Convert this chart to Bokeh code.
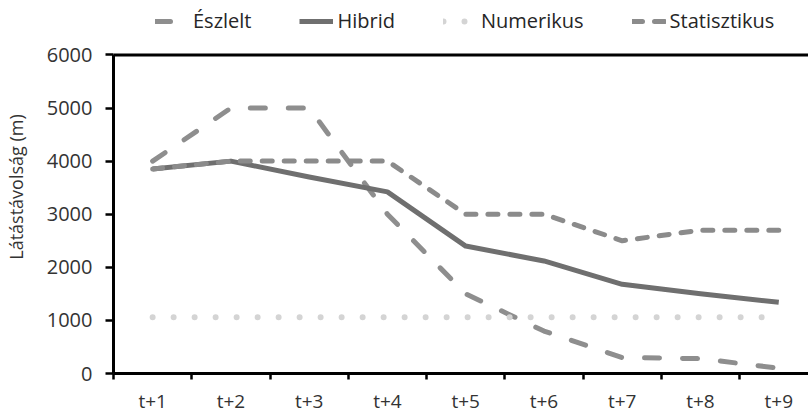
from bokeh.plotting import figure
from bokeh.models import (FixedTicker, LinearAxis, Legend, LegendItem, Range1d, Span)
from bokeh.embed import file_html
from bokeh.resources import INLINE

# ---- data ----
categories = ["t+1", "t+2", "t+3", "t+4", "t+5", "t+6", "t+7", "t+8", "t+9"]
eszlelt = [4000, 5000, 5000, 3000, 1500, 800, 300, 280, 100]
hibrid = [3850, 4000, 3700, 3420, 2400, 2120, 1680, 1500, 1340]
numerikus = [1060, 1060, 1060, 1060, 1060, 1060, 1060, 1060, 1060]
statisztikus = [3850, 4000, 4000, 4000, 3000, 3000, 2500, 2700, 2700]
y_ticks = [0, 1000, 2000, 3000, 4000, 5000, 6000]

xs = list(range(1, len(categories) + 1))
FONT = "Open Sans"

# frame runs to the top of the canvas so the legend can sit inside it;
# the value axis itself stops at 6000 (top border drawn there)
p = figure(width=808, height=416, output_backend="svg", toolbar_location=None,
           x_range=Range1d(0.5, 9.38), y_range=Range1d(0, 7025),
           min_border_left=113, min_border_top=0, min_border_bottom=39,
           min_border_right=0, x_axis_type=None, y_axis_type=None)
p.outline_line_color = None
p.background_fill_color = "white"
p.border_fill_color = "white"
p.grid.visible = False

# x axis (category labels at centres, ticks at boundaries)
xax = LinearAxis(ticker=FixedTicker(ticks=xs, minor_ticks=[x - 0.5 for x in xs] + [xs[-1] + 0.5]))
xax.major_label_overrides = {x: c for x, c in zip(xs, categories)}
xax.major_tick_line_color = None
xax.major_tick_out = 0
xax.major_tick_in = 0
xax.minor_tick_line_color = "black"
xax.minor_tick_line_width = 2.5
xax.minor_tick_out = 6
xax.minor_tick_in = 0
xax.axis_line_color = "black"
xax.axis_line_width = 3
xax.major_label_text_font = FONT
xax.major_label_text_font_size = "19px"
xax.major_label_text_color = "#333333"
xax.major_label_text_line_height = 1.0
xax.major_label_standoff = 8
p.add_layout(xax, "below")

# y axis
yax = LinearAxis(ticker=FixedTicker(ticks=y_ticks), bounds=(y_ticks[0], y_ticks[-1]))
yax.axis_label = "Látástávolság (m)"
yax.axis_label_text_font = FONT
yax.axis_label_text_font_size = "18px"
yax.axis_label_text_font_style = "normal"
yax.axis_label_text_color = "#333333"
yax.axis_label_standoff = 16
yax.minor_tick_line_color = None
yax.major_tick_line_color = "black"
yax.major_tick_line_width = 2.5
yax.major_tick_out = 8
yax.major_tick_in = 0
yax.axis_line_color = "black"
yax.axis_line_width = 3
yax.major_label_text_font = FONT
yax.major_label_text_font_size = "20px"
yax.major_label_text_color = "#333333"
yax.major_label_standoff = 13
p.add_layout(yax, "left")

# top border line of the plot area
p.add_layout(Span(location=y_ticks[-1], dimension="width", line_color="black", line_width=3))

r_e = p.line(xs, eszlelt, line_color="#8e8e8e", line_width=5, line_dash="15 23",
             line_cap="round", line_join="round")
r_h = p.line(xs, hibrid, line_color="#6f6f6f", line_width=5, line_join="round")
r_n = p.line(xs, numerikus, line_color="#d4d4d4", line_width=6, line_dash="0 21",
             line_cap="round")
r_s = p.line(xs, statisztikus, line_color="#8b8b8b", line_width=5, line_dash="10 12",
             line_cap="round", line_join="round")

legend = Legend(items=[
    LegendItem(label="Észlelt", renderers=[r_e]),
    LegendItem(label="Hibrid", renderers=[r_h]),
    LegendItem(label="Numerikus", renderers=[r_n]),
    LegendItem(label="Statisztikus", renderers=[r_s]),
], orientation="horizontal", location=(42, 339))
legend.label_text_font = FONT
legend.label_text_font_size = "20px"
legend.label_text_color = "#262626"
legend.glyph_width = 34
legend.glyph_height = 20
legend.label_height = 20
legend.label_standoff = 4
legend.spacing = 48
legend.padding = 0
legend.margin = 0
legend.border_line_color = None
legend.background_fill_alpha = 0
p.add_layout(legend, "center")

open("out.html", "w").write(file_html(p, INLINE))
